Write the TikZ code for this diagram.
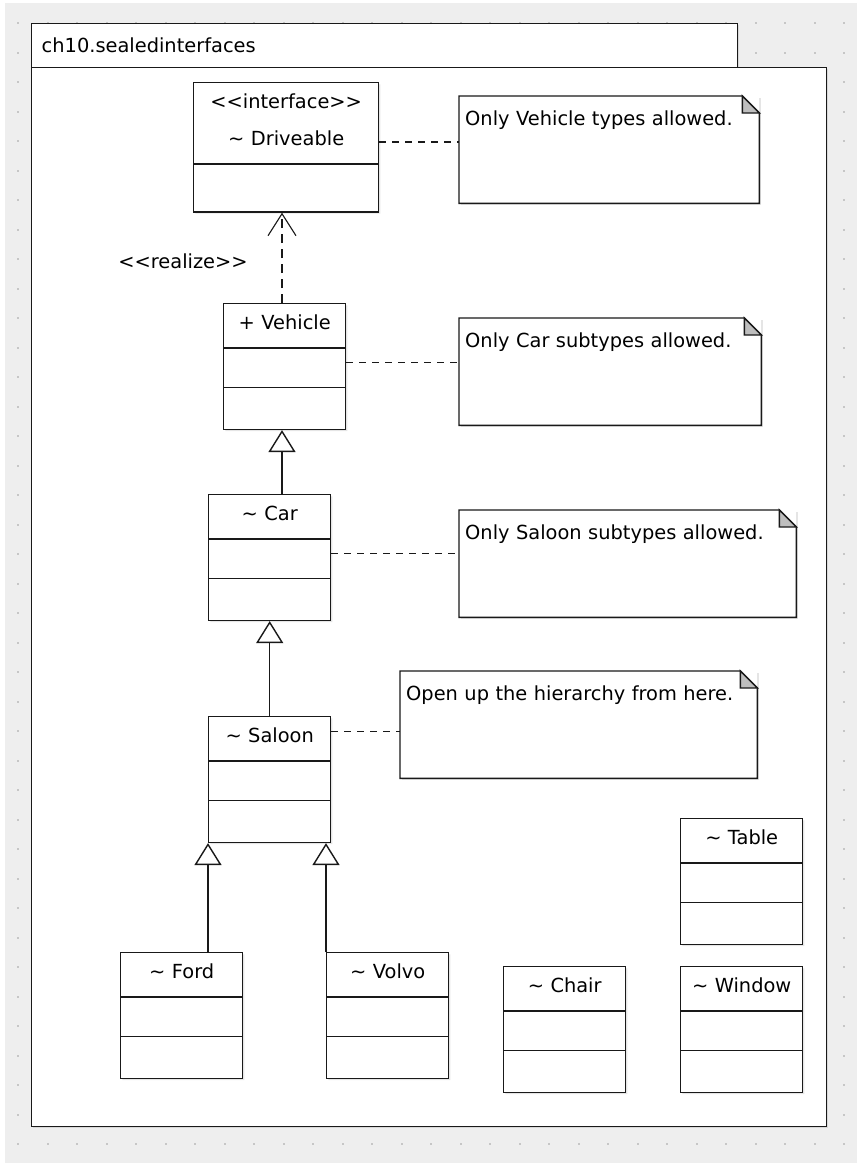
\documentclass[tikz,border=0pt]{standalone}
\usepackage{fontspec}
\setmainfont{DejaVu Sans}
\usepackage{tikz}
\usetikzlibrary{arrows.meta,positioning,shapes.multipart,shadows,calc}
\definecolor{canvas}{HTML}{EEEEEE}
\definecolor{griddot}{HTML}{C6C6C6}
\definecolor{foldgray}{HTML}{BEBEBE}
\newcommand{\umlfont}{\fontsize{19.4pt}{23pt}\selectfont}
\newcommand{\stereo}[1]{<\kern0pt<#1>\kern0pt>}
\newcommand{\clshead}[1]{\rule[-18pt]{0pt}{43pt}#1}
\newcommand{\clsbox}[1]{\clshead{#1}\nodepart{two}\rule{0pt}{38pt}\nodepart{three}\rule{0pt}{40.5pt}}

\begin{document}
\begin{tikzpicture}[x=1pt,y=-1pt,
  shade/.style={drop shadow={shadow xshift=1.6pt,shadow yshift=-1.6pt,opacity=0.2}},
  pkg/.style={draw=black!90,fill=white,line width=1.4pt,anchor=north west,shade},
  cls/.style={rectangle split,rectangle split parts=3,draw=black!90,fill=white,
              line width=1.4pt,inner xsep=0pt,inner ysep=0pt,text width=122pt,
              align=center,font=\umlfont,anchor=north west,shade},
  note/.style={fill=white,inner xsep=6pt,inner ysep=0pt,text height=29pt,
               text depth=78pt,align=left,font=\umlfont,anchor=north west,shade},
  notebord/.style={draw=black!90,line width=1.4pt,line join=miter},
  notelink/.style={draw=black!90,line width=1.4pt,dash pattern=on 7pt off 6pt},
  inherit/.style={draw=black!90,line width=1.4pt,
                  -{Triangle[length=22pt,width=27pt,fill=white]}},
  realize/.style={draw=black!90,line width=1.4pt,dash pattern=on 9pt off 6pt,
                  -{Straight Barb[length=22pt,width=28pt,line width=1.1pt]}}]
\useasboundingbox (0,0) rectangle (857,1163);
\fill[white] (0,0) rectangle (857,1163);
\fill[canvas] (5,3) rectangle (857,1163);
\foreach \i in {0,...,28}
  \foreach \j in {0,...,38}
    \fill[griddot] ({17+29.5*\i},{22+29.5*\j}) rectangle ++(2.2,2.2);
\node[pkg,minimum width=706pt,minimum height=44pt,text width=686pt,inner xsep=10pt,
  align=left,font=\umlfont] (tab) at (31,23) {ch10.sealedinterfaces};
\node[pkg,minimum width=795pt,minimum height=1059pt] (pkgbody) at (31,67) {};

\node[cls,rectangle split parts=2,text width=185pt,font=\fontsize{19.4pt}{37pt}\selectfont]
  (drive) at (193,82) {\rule{0pt}{25pt}\stereo{interface}\\
  \rule[-18pt]{0pt}{18pt}\textasciitilde{} Driveable\nodepart{two}\rule{0pt}{46.5pt}};
\node[cls] (vehicle) at (223,303) {\clsbox{+ Vehicle}};
\node[cls] (car) at (208,494) {\clsbox{\textasciitilde{} Car}};
\node[cls] (saloon) at (208,716) {\clsbox{\textasciitilde{} Saloon}};
\node[cls] (ford) at (120,952) {\clsbox{\textasciitilde{} Ford}};
\node[cls] (volvo) at (326,952) {\clsbox{\textasciitilde{} Volvo}};
\node[cls] (chair) at (503,966) {\clsbox{\textasciitilde{} Chair}};
\node[cls] (window) at (680,966) {\clsbox{\textasciitilde{} Window}};
\node[cls] (table) at (680,818) {\clsbox{\textasciitilde{} Table}};

\node[note,text width=288pt] (n1) at (459,96) {Only Vehicle types allowed.};
\node[note,text width=290pt] (n2) at (459,318) {Only Car subtypes allowed.};
\node[note,text width=325pt] (n3) at (459,510) {Only Saloon subtypes allowed.};
\node[note,text width=345pt] (n4) at (400,671) {Open up the hierarchy from here.};
\foreach \n in {n1,n2,n3,n4}{
  \draw[notebord] (\n.north west) -- ([xshift=-17pt]\n.north east)
    -- ([yshift=-17pt]\n.north east) -- (\n.south east) -- (\n.south west) -- cycle;
  \filldraw[notebord,fill=foldgray] ([xshift=-17pt]\n.north east)
    -- ([xshift=-17pt,yshift=-17pt]\n.north east) -- ([yshift=-17pt]\n.north east) -- cycle;
}

\node[font=\umlfont] (rlz) at (183,261) {\stereo{realize}};
\draw[realize] (vehicle.north -| 282,0) -- (drive.south -| 282,0);
\draw[inherit] (car.north -| 282,0) -- (vehicle.south -| 282,0);
\draw[inherit] (saloon.north) -- (car.south);
\draw[inherit] (ford.north -| saloon.south west) -- (saloon.south west);
\draw[inherit] (volvo.north west) -- (volvo.north west |- saloon.south);

\draw[notelink] ($(drive.north east)!0.46!(drive.south east)$) coordinate (d1)
  -- (d1 -| n1.west);
\draw[notelink] ($(vehicle.north east)!0.47!(vehicle.south east)$) coordinate (v1)
  -- (v1 -| n2.west);
\draw[notelink] ($(car.north east)!0.47!(car.south east)$) coordinate (c1)
  -- (c1 -| n3.west);
\draw[notelink] ($(saloon.north east)!0.12!(saloon.south east)$) coordinate (s1)
  -- (s1 -| n4.west);
\end{tikzpicture}
\end{document}
